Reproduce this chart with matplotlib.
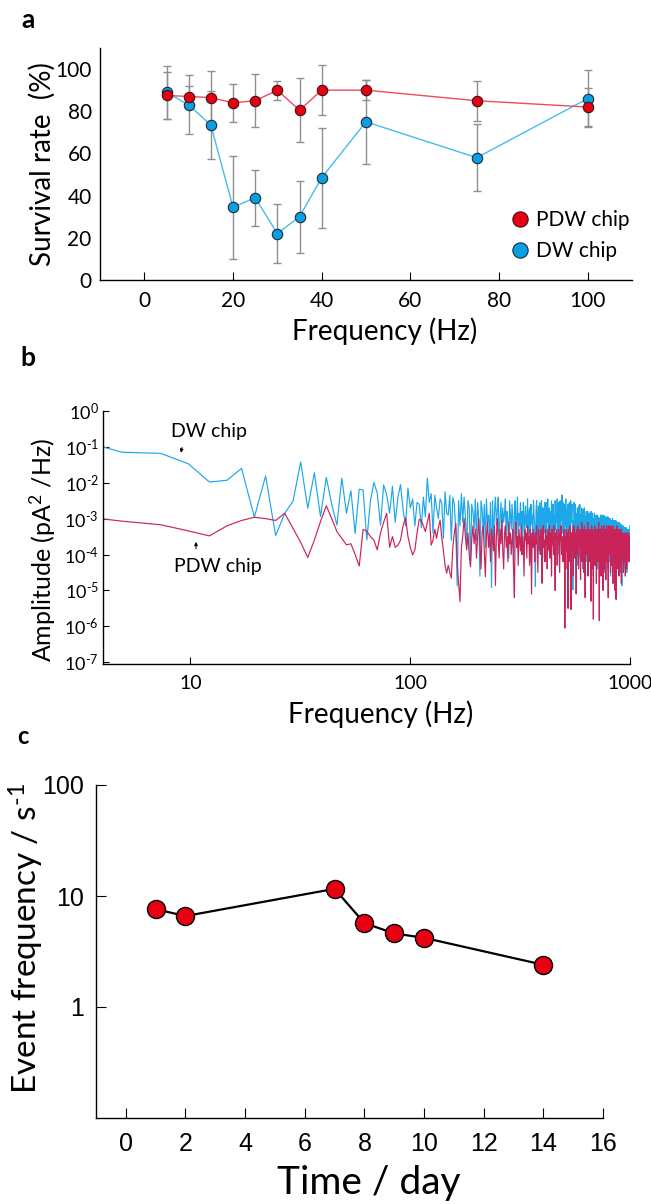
"""Three stacked panels: survival rate vs frequency, noise spectra of the
two chips, and event frequency over time."""

import matplotlib
matplotlib.use("Agg")
import matplotlib.pyplot as plt
import numpy as np
from matplotlib import ticker
from matplotlib.lines import Line2D

# ---- panel a: survival rate ------------------------------------------------
FREQ_A = [5, 10, 15, 20, 25, 30, 35, 40, 50, 75, 100]
PDW_SURV = [87.5, 87, 86.5, 84, 85, 90, 80.5, 90, 90, 85, 82]
PDW_ERR = [11, 5, 12.4, 9, 12.6, 4.5, 15.3, 12, 4.6, 9.4, 9.2]
DW_SURV = [89, 83, 73.5, 34.5, 39, 22, 30, 48.5, 75, 58, 86]
DW_ERR = [12.6, 14, 16, 24.5, 13.3, 14, 17, 23.7, 20, 16, 13.4]

# ---- panel b: power spectra, log10(pA^2/Hz) per FFT bin ---------------------
FFT_STEP = 10000 / 4096  # Hz per bin
DW_PSD_LOG = [
    -0.63, -1.15, -1.18, -1.47, -1.98, -1.93, -1.60, -2.96, -1.81, -3.47,
    -2.85, -2.51, -1.42, -2.71, -1.72, -2.94, -1.85, -2.60, -3.18, -1.87,
    -2.85, -2.22, -3.41, -2.18, -2.20, -3.59, -2.50, -1.99, -2.29, -3.18,
    -2.06, -2.33, -2.85, -2.10, -3.10, -2.40, -2.05, -2.75, -3.20, -2.15,
    -2.70, -2.45, -3.20, -2.55, -2.60, -3.25, -2.40, -2.95, -1.87, -2.55,
    -2.30, -3.40, -2.35, -2.70, -3.00, -2.45, -2.55, -3.55, -2.25, -2.85,
    -2.90, -2.35, -3.60, -2.40, -2.60, -3.30, -4.87, -2.50, -3.20, -2.30,
    -3.10, -2.40, -2.95, -3.80, -2.50, -2.70, -4.30, -2.60, -2.80, -3.30,
    -2.45, -3.60, -2.55, -3.00, -4.60, -2.50, -2.75, -3.40, -2.60, -3.80,
    -2.45, -3.10, -2.90, -3.50, -2.55, -4.92, -2.50, -3.70, -2.80, -2.40,
    -3.20, -2.75, -2.40, -3.90, -2.95, -2.55, -3.40, -2.70, -3.10, -2.85,
    -2.45, -3.60, -2.80, -3.05, -4.10, -2.50, -2.90, -3.30, -2.60, -3.00,
    -4.55, -2.75, -2.50, -3.40, -2.95, -2.40, -3.80, -2.85, -3.20, -2.55,
    -3.30, -2.80, -4.00, -2.55, -2.95, -3.50, -2.65, -3.10, -3.25, -2.45,
    -3.60, -2.85, -2.70, -4.20, -2.60, -3.15, -2.90, -3.40, -2.50, -2.95,
    -3.20, -4.89, -2.80, -2.50, -3.50, -2.95, -2.65, -3.90, -2.55, -3.05,
    -3.30, -2.50, -2.85, -4.10, -2.70, -3.10, -3.40, -2.55, -2.80, -3.70,
    -2.55, -3.10, -2.45, -3.60, -2.95, -2.70, -4.00, -2.80, -3.30, -2.50,
    -3.05, -3.50, -2.60, -3.20, -2.90, -4.55, -2.50, -3.30, -2.80, -3.10,
    -2.45, -3.60, -2.95, -2.55, -4.00, -2.85, -2.50, -3.30, -2.75, -3.05,
    -2.34, -3.40, -2.80, -2.55, -3.80, -2.60, -2.90, -3.20, -2.45, -3.50,
    -2.75, -3.00, -4.20, -2.60, -2.90, -3.30, -2.55, -3.10, -3.60, -2.50,
    -3.10, -2.85, -2.60, -3.40, -4.98, -3.05, -3.30, -2.55, -2.95, -3.20,
    -2.60, -3.70, -2.85, -3.00, -4.30, -2.70, -3.15, -3.50, -2.65, -3.05,
    -3.40, -2.60, -4.10, -2.90, -3.05, -3.60, -2.70, -3.20, -2.90, -4.40,
    -2.75, -3.10, -3.40, -2.70, -3.80, -2.95, -3.10, -4.20, -2.80, -3.20,
    -2.95, -3.60, -2.80, -4.50, -3.05, -3.30, -2.85, -3.90, -2.90, -3.15,
    -3.50, -2.80, -4.30, -3.05, -3.20, -2.85, -3.70, -3.00, -4.60, -3.00,
    -3.30, -2.85, -3.80, -3.00, -3.15, -4.20, -2.90, -3.40, -3.10, -3.60,
    -2.90, -4.40, -3.10, -3.20, -2.95, -3.70, -3.05, -4.00, -3.00, -3.35,
    -2.90, -3.80, -3.00, -4.30, -2.90, -3.20, -2.95, -3.90, -3.00, -3.50,
    -2.90, -4.50, -3.05, -3.30, -2.95, -3.70, -3.00, -4.10, -2.95, -3.40,
    -3.00, -3.90, -3.05, -4.40, -2.95, -3.30, -3.10, -3.80, -3.00, -4.20,
    -3.05, -3.50, -3.00, -4.60, -3.10, -3.40, -3.05, -3.90, -3.10, -4.30,
    -3.00, -3.60, -3.10, -4.80, -3.05, -3.40, -3.15, -4.00, -3.05, -3.70,
    -3.10, -4.20, -3.05, -3.50, -3.15, -4.40, -3.10, -3.80, -3.20, -4.00,
    -3.10, -3.60, -3.20, -4.30, -3.10, -3.70, -3.25, -4.10, -3.15, -3.50,
    -3.20, -4.50, -3.15, -3.80, -3.25, -4.87, -3.20, -3.60, -3.30, -4.20,
    -3.20, -3.70, -3.30, -4.40, -3.25, -3.90, -3.35, -4.10, -3.25, -3.60,
    -3.30, -4.30, -3.25, -3.80, -3.35, -4.50, -3.30, -3.70, -3.40, -4.00,
    -3.30, -3.60, -3.40, -4.20, -3.30, -3.90, -3.45, -3.60, -3.20,
]
PDW_PSD_LOG = [
    -2.85, -3.07, -3.17, -3.34, -3.48, -3.20, -3.05, -2.96, -3.00, -3.05,
    -2.85, -3.27, -3.66, -4.08, -3.60, -3.08, -2.64, -3.00, -3.36, -3.55,
    -3.73, -3.70, -4.00, -4.32, -3.30, -3.35, -3.50, -3.60, -3.87, -3.40,
    -3.10, -2.85, -3.80, -3.50, -3.80, -3.74, -3.60, -3.20, -2.98, -3.50,
    -3.80, -4.01, -3.87, -3.40, -3.02, -3.05, -3.20, -3.36, -3.10, -2.85,
    -3.74, -3.60, -3.30, -3.55, -3.25, -3.04, -3.52, -3.90, -4.30, -4.52,
    -4.30, -4.50, -4.66, -3.80, -3.40, -3.13, -4.20, -4.80, -5.31, -3.80,
    -3.50, -2.99, -3.50, -3.87, -3.40, -4.00, -4.34, -3.60, -3.20, -3.70,
    -3.30, -4.10, -3.50, -3.00, -3.70, -4.40, -3.40, -3.20, -3.90, -4.62,
    -3.50, -3.10, -3.80, -3.40, -4.20, -3.30, -3.60, -3.90, -3.20, -4.86,
    -3.50, -3.00, -3.60, -4.10, -3.30, -3.70, -3.04, -3.90, -4.40, -3.40,
    -3.20, -3.80, -3.50, -4.20, -3.10, -3.70, -3.40, -4.00, -3.60, -3.30,
    -4.50, -5.20, -3.40, -3.10, -3.80, -3.50, -4.30, -3.30, -3.60, -3.90,
    -3.20, -4.00, -3.50, -3.70, -4.60, -3.30, -3.60, -3.40, -4.10, -3.20,
    -3.70, -3.50, -4.30, -3.30, -3.60, -5.10, -3.40, -3.80, -3.30, -3.60,
    -4.20, -3.40, -3.70, -3.20, -3.90, -4.50, -3.30, -3.60, -3.50, -4.00,
    -3.30, -3.70, -4.80, -3.40, -3.20, -3.80, -3.60, -4.20, -3.30, -3.70,
    -3.50, -4.40, -3.30, -3.60, -3.90, -3.20, -4.10, -3.50, -3.40, -4.60,
    -3.30, -3.70, -3.50, -4.00, -3.20, -3.80, -5.00, -3.40, -3.60, -3.30,
    -4.30, -3.50, -3.70, -3.30, -3.90, -4.50, -3.40, -3.60, -3.20, -4.00,
    -3.50, -3.70, -4.20, -3.60, -3.40, -3.30, -6.05, -3.50, -4.40, -3.30,
    -3.60, -3.90, -3.40, -5.50, -3.30, -3.70, -3.50, -4.20, -3.20, -3.80,
    -5.53, -3.40, -3.60, -3.90, -3.30, -4.60, -3.50, -3.20, -3.80, -4.10,
    -3.40, -3.60, -5.10, -3.30, -3.50, -4.00, -3.20, -3.70, -4.40, -3.40,
    -3.50, -3.80, -3.30, -4.70, -3.40, -3.60, -3.10, -4.20, -3.50, -3.70,
    -3.30, -4.50, -3.50, -3.20, -3.90, -5.20, -3.40, -3.60, -3.30, -4.00,
    -3.40, -3.70, -3.10, -4.60, -3.50, -3.30, -3.80, -4.20, -3.40, -3.60,
    -3.30, -5.30, -3.50, -3.20, -3.90, -4.40, -3.30, -3.60, -5.80, -3.40,
    -3.50, -3.80, -3.20, -4.30, -3.40, -3.60, -3.30, -4.80, -3.50, -3.70,
    -3.30, -4.20, -3.40, -3.60, -3.10, -4.50, -5.84, -3.50, -3.30, -3.90,
    -3.40, -4.60, -3.30, -3.50, -3.20, -4.10, -3.40, -3.70, -5.00, -3.50,
    -3.30, -3.90, -3.20, -4.40, -3.50, -3.30, -3.80, -4.70, -3.40, -3.60,
    -3.20, -4.20, -3.40, -3.70, -3.30, -5.20, -3.50, -3.60, -3.20, -4.00,
    -3.40, -3.80, -3.30, -4.50, -3.50, -3.20, -3.70, -4.30, -3.40, -3.60,
    -3.30, -4.80, -3.50, -3.20, -3.90, -4.20, -3.30, -3.60, -3.40, -5.00,
    -3.50, -3.30, -3.80, -5.25, -3.40, -3.60, -3.20, -4.40, -3.50, -3.70,
    -3.30, -4.00, -3.40, -3.60, -4.60, -3.50, -3.30, -3.90, -3.40, -4.30,
    -3.50, -3.70, -3.30, -4.80, -3.60, -3.40, -3.80, -4.10, -3.50, -3.60,
    -3.40, -4.50, -3.60, -3.50, -3.90, -4.20, -3.50, -3.70, -3.40, -4.60,
    -3.60, -3.50, -4.00, -3.40, -3.70, -4.40, -3.50, -3.60, -3.40, -4.10,
    -3.60, -3.50, -3.90, -3.40, -4.20, -3.60, -3.50, -3.80, -3.70,
]

# ---- panel c: event frequency ---------------------------------------------
DAYS = [1, 2, 7, 8, 9, 10, 14]
EVENT_FREQ = [7.6, 6.6, 11.6, 5.7, 4.6, 4.2, 2.4]

FIG_W, FIG_H = 651, 1204
TEXT_FONT = "Lato"
TICK_FONT_C = "Liberation Sans"

plt.rcParams["font.family"] = [TEXT_FONT, "DejaVu Sans"]
plt.rcParams["mathtext.fontset"] = "custom"
plt.rcParams["mathtext.rm"] = TEXT_FONT
plt.rcParams["mathtext.default"] = "regular"
plt.rcParams["axes.linewidth"] = 1.0


def px_axes(fig, left, top, right, bottom):
    return fig.add_axes([left / FIG_W, 1 - bottom / FIG_H,
                         (right - left) / FIG_W, (bottom - top) / FIG_H])


def px_text(fig, x, y, s, **kw):
    kw.setdefault("ha", "center")
    kw.setdefault("va", "center")
    fig.text(x / FIG_W, 1 - y / FIG_H, s, **kw)


def decade_label(v, _pos):
    e = int(round(np.log10(v)))
    return r"$10^{\text{%d}}$" % e


def main():
    fig = plt.figure(figsize=(FIG_W / 100, FIG_H / 100), dpi=100)

    # ---------------- a ----------------
    ax = px_axes(fig, 100, 48, 632, 280)
    ax.errorbar(FREQ_A, DW_SURV, yerr=DW_ERR, fmt="none", ecolor="#8f8f8f",
                elinewidth=1, capsize=3, capthick=1, zorder=1)
    ax.errorbar(FREQ_A, PDW_SURV, yerr=PDW_ERR, fmt="none", ecolor="#8f8f8f",
                elinewidth=1, capsize=3, capthick=1, zorder=1)
    ax.plot(FREQ_A, DW_SURV, "-", color="#45bdf0", lw=1, zorder=2)
    ax.plot(FREQ_A, PDW_SURV, "-", color="#f04a5c", lw=1, zorder=2)
    ax.plot(FREQ_A, DW_SURV, "o", ms=7.5, mfc="#0a9fe3", mec="#1b2b3b",
            mew=0.8, ls="none", zorder=3)
    ax.plot(FREQ_A, PDW_SURV, "o", ms=7.5, mfc="#e60012", mec="#3a1414",
            mew=0.8, ls="none", zorder=4)
    handles = [
        Line2D([], [], ls="none", marker="o", ms=11, mfc="#e60012",
               mec="#3a1414", mew=0.8, label="PDW chip"),
        Line2D([], [], ls="none", marker="o", ms=11, mfc="#0a9fe3",
               mec="#1b2b3b", mew=0.8, label="DW chip"),
    ]
    ax.legend(handles=handles, loc="lower right", bbox_to_anchor=(1.03, 0.0),
              frameon=False, fontsize=15, handletextpad=0.15,
              labelspacing=0.55, handlelength=1.2)
    ax.set_xlim(-10, 110)
    ax.set_ylim(0, 110)
    ax.set_xticks(range(0, 101, 20))
    ax.set_yticks(range(0, 101, 20))
    ax.tick_params(axis="x", direction="in", length=6, pad=8, labelsize=15)
    ax.tick_params(axis="y", length=0, pad=6, labelsize=15)
    ax.spines[["top", "right"]].set_visible(False)
    px_text(fig, 42, 164, "Survival rate  (%)", rotation=90, fontsize=20)
    px_text(fig, 385, 331, "Frequency (Hz)", fontsize=20)
    px_text(fig, 28, 20, "a", fontsize=19, fontweight="bold")

    # ---------------- b ----------------
    ax = px_axes(fig, 103, 411, 630, 664)
    freqs = FFT_STEP * np.arange(1, len(DW_PSD_LOG) + 1)
    ax.plot(freqs, 10 ** np.array(DW_PSD_LOG), color="#1ea7e8", lw=0.85)
    ax.plot(freqs, 10 ** np.array(PDW_PSD_LOG), color="#c9245a", lw=0.85)
    ax.set_xscale("log")
    ax.set_yscale("log")
    ax.set_xlim(4, 1000)
    ax.set_ylim(10 ** -7.05, 1)
    ax.xaxis.set_major_locator(ticker.FixedLocator([10, 100, 1000]))
    ax.xaxis.set_major_formatter(ticker.FixedFormatter(["10", "100", "1000"]))
    ax.xaxis.set_minor_locator(ticker.NullLocator())
    ax.yaxis.set_major_locator(ticker.FixedLocator([10.0 ** e for e in range(-7, 1)]))
    ax.yaxis.set_major_formatter(ticker.FuncFormatter(decade_label))
    ax.yaxis.set_minor_locator(ticker.NullLocator())
    ax.tick_params(axis="x", direction="in", length=5, pad=8, labelsize=14)
    ax.tick_params(axis="y", direction="in", length=4, pad=3, labelsize=13)
    ax.spines[["top", "right"]].set_visible(False)
    ax.text(12.1, 10 ** -0.56, "DW chip", ha="center", va="center", fontsize=14)
    ax.annotate("", xy=(9.0, 10 ** -1.24), xytext=(9.2, 10 ** -0.94),
                arrowprops=dict(arrowstyle="-|>", lw=0.7, color="black",
                                mutation_scale=5))
    ax.text(13.3, 10 ** -4.34, "PDW chip", ha="center", va="center", fontsize=14)
    ax.annotate("", xy=(10.6, 10 ** -3.57), xytext=(10.6, 10 ** -3.92),
                arrowprops=dict(arrowstyle="-|>", lw=0.7, color="black",
                                mutation_scale=5))
    px_text(fig, 43, 550, "Amplitude (pA$^2$ /Hz)", rotation=90, fontsize=18)
    px_text(fig, 381, 714, "Frequency (Hz)", fontsize=20)
    px_text(fig, 28, 358, "b", fontsize=19, fontweight="bold")

    # ---------------- c ----------------
    ax = px_axes(fig, 96, 785, 603, 1118)
    ax.plot(DAYS, EVENT_FREQ, "-", color="black", lw=1.6, zorder=2)
    ax.plot(DAYS, EVENT_FREQ, "o", ms=13, mfc="#e60012", mec="black",
            mew=1.0, ls="none", zorder=3)
    ax.set_yscale("log")
    ax.set_ylim(0.1, 100)
    ax.set_xlim(-1, 16)
    ax.set_xticks(range(0, 17, 2))
    ax.yaxis.set_major_locator(ticker.FixedLocator([1, 10, 100]))
    ax.yaxis.set_major_formatter(ticker.FixedFormatter(["1", "10", "100"]))
    ax.yaxis.set_minor_locator(ticker.NullLocator())
    ax.tick_params(axis="both", direction="in", length=7, labelsize=18)
    ax.tick_params(axis="x", pad=10)
    ax.tick_params(axis="y", pad=9)
    for lab in ax.get_xticklabels() + ax.get_yticklabels():
        lab.set_family([TICK_FONT_C, "DejaVu Sans"])
    ax.spines[["top", "right"]].set_visible(False)
    px_text(fig, 26, 939, r"Event frequency / s$^{\text{-1}}$", rotation=90,
            fontsize=24)
    px_text(fig, 369, 1183, "Time / day", fontsize=28)
    px_text(fig, 23, 737, "c", fontsize=17, fontweight="bold")

    fig.savefig("out.png", dpi=100)
    plt.close(fig)


if __name__ == "__main__":
    main()
